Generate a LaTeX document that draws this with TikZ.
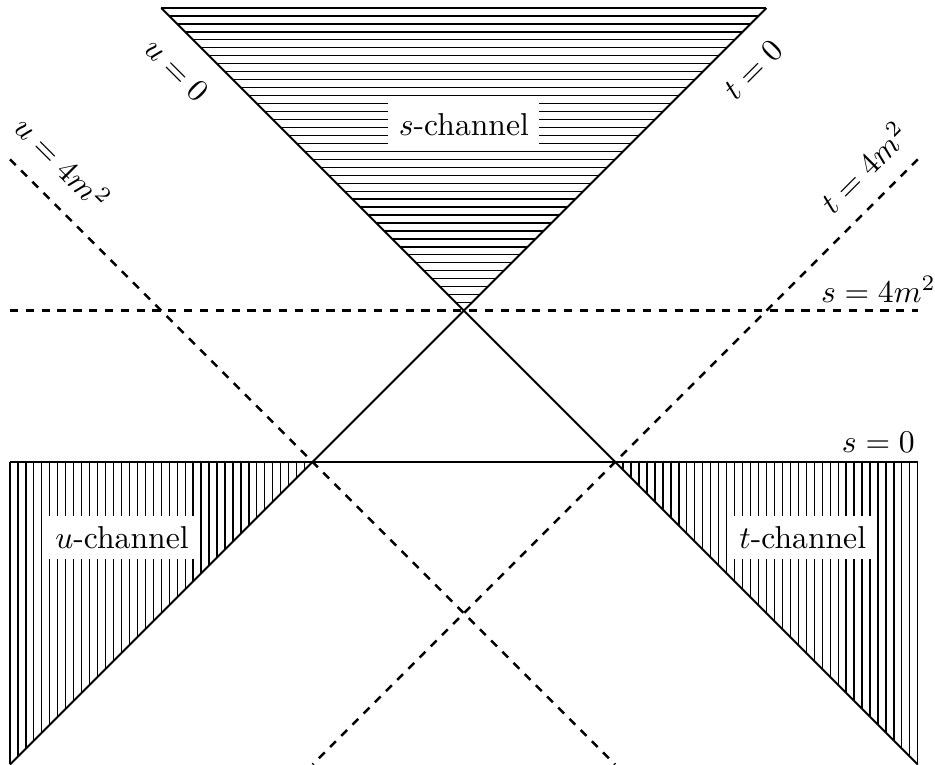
\documentclass[tikz,border=0pt]{standalone}
\usepackage{amsmath, amssymb}
\usepackage{tikz}
\usetikzlibrary{positioning, calc}

\begin{document}
\begin{tikzpicture}[x=1.68cm, y=1.68cm,
    bound_line/.style={semithick},
    thresh_line/.style={thick, dash pattern=on 2.6pt off 2.4pt},
    hatch_line/.style={line width=0.4pt},
    chan_node/.style={fill=white},
    lab_node/.style={inner sep=2pt},
    ]
    \useasboundingbox (-3.066,-2) rectangle (3.114,3.053);

    % Coordinates
    \coordinate (u0a) at (-2,3); \coordinate (u0b) at (3,-2);
    \coordinate (t0a) at (2,3); \coordinate (t0b) at (-3,-2);
    \coordinate (s0a) at (-3,0); \coordinate (s0b) at (3,0);
    \coordinate (s4a) at (-3,1); \coordinate (s4b) at (3,1);
    \coordinate (u4a) at (-3,2); \coordinate (u4b) at (1,-2);
    \coordinate (t4a) at (3,2); \coordinate (t4b) at (-1,-2);

    % Hatching
    \foreach \k in {0,...,38} {
        \draw[hatch_line] ({1-(1+\k/19)},{1+\k/19}) -- ({\k/19},{1+\k/19});
        \draw[hatch_line] ({-3+\k/19},0) -- ({-3+\k/19},{-2+\k/19});
        \draw[hatch_line] ({1+\k/19},0) -- ({1+\k/19},{-\k/19});
    }

    % Lines
    \draw[bound_line] (u0a) -- (u0b);
    \draw[bound_line] (t0a) -- (t0b);
    \draw[bound_line] (s0a) -- (s0b);
    \draw[thresh_line] (s4a) -- (s4b);
    \draw[thresh_line] (u4a) -- (u4b);
    \draw[thresh_line] (t4a) -- (t4b);

    % Nodes
    \node[chan_node] (schan) at (0,2.23) {$s$-channel};
    \node[chan_node] (uchan) at (-2.26,-0.5) {$u$-channel};
    \node[chan_node] (tchan) at (2.24,-0.5) {$t$-channel};
    \node[lab_node, rotate=-45] (u0lab) at (-1.90,2.59) {$u = 0$};
    \node[lab_node, rotate=45] (t0lab) at (1.91,2.59) {$t = 0$};
    \node[lab_node, rotate=-45] (u4lab) at (-2.65,1.98) {$u = 4m^2$};
    \node[lab_node, rotate=45] (t4lab) at (2.64,1.95) {$t = 4m^2$};
    \node[lab_node] (s4lab) at (2.74,1.14) {$s = 4m^2$};
    \node[lab_node] (s0lab) at (2.74,0.13) {$s = 0$};
\end{tikzpicture}
\end{document}
